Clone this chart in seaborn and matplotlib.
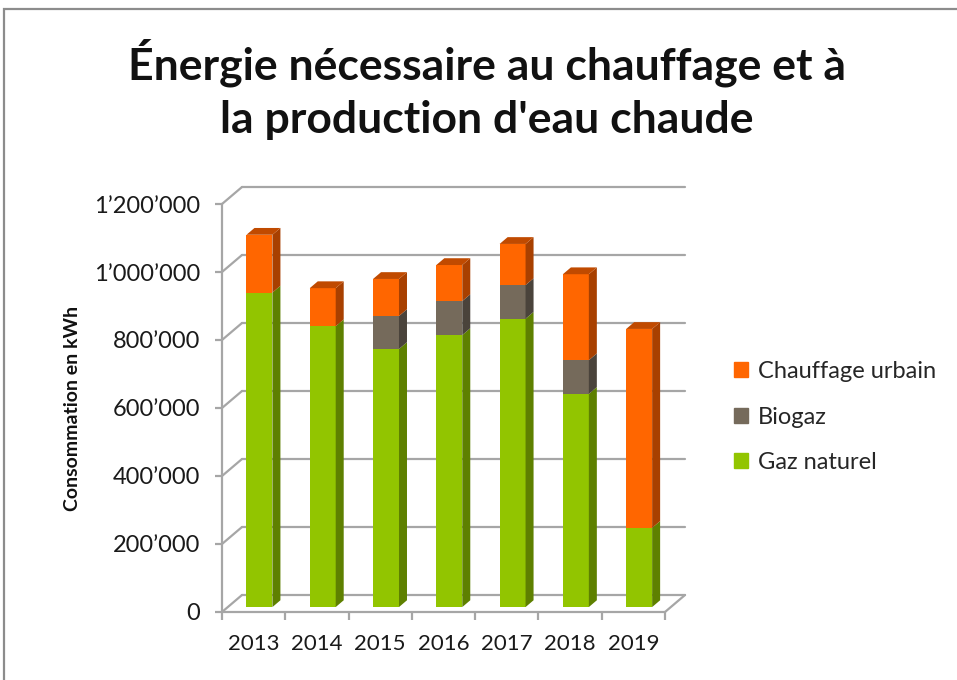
import matplotlib.pyplot as plt
import numpy as np
import pandas as pd
import seaborn as sns
from matplotlib.patches import Polygon, Rectangle

# values (kWh)
annees = ["2013", "2014", "2015", "2016", "2017", "2018", "2019"]
gaz_naturel = [925000, 826000, 759000, 800000, 848000, 627000, 233000]
biogaz = [0, 0, 97000, 100000, 99000, 99000, 0]
chauffage_urbain = [170000, 112000, 109000, 106000, 121000, 253000, 585000]
yticks = [0, 200000, 400000, 600000, 800000, 1000000, 1200000]
ytick_labels = ["0", "200’000", "400’000", "600’000", "800’000", "1’000’000", "1’200’000"]

vert, vert_side = "#92C500", "#5E8000"
brun, brun_side = "#756A5B", "#4A433B"
orange, orange_side, orange_top = "#FF6600", "#A84000", "#C04A00"
gris = "#A6A6A6"

sns.set_theme(style="white")
plt.rcParams["font.family"] = ["Lato", "DejaVu Sans"]

df = pd.DataFrame({"annee": annees, "gaz": gaz_naturel, "bio": biogaz, "urbain": chauffage_urbain})
df["milieu"] = df["gaz"] + df["bio"]
df["total"] = df["milieu"] + df["urbain"]

fig = plt.figure(figsize=(9.57, 6.8), dpi=100)
ax = fig.add_axes([222 / 957, 68 / 680, 443 / 957, 408 / 680])
ax.set_facecolor("none")

w = 0.41
sns.barplot(data=df, x="annee", y="total", color=orange, saturation=1, width=w, ax=ax, zorder=3)
sns.barplot(data=df, x="annee", y="milieu", color=brun, saturation=1, width=w, ax=ax, zorder=3)
sns.barplot(data=df, x="annee", y="gaz", color=vert, saturation=1, width=w, ax=ax, zorder=3)

ax.set_xlim(-0.5, 6.5)
ax.set_ylim(0, 1200000)

# fake 3D depth: back wall offset, bars sit partway in
DX, DY = 20 / (443 / 7), 17 * 1200000 / 408
f, d = 0.29, 0.4
for p in ax.patches:
    p.set_x(p.get_x() + f * DX)
    p.set_y(p.get_y() + f * DY)
    p.set_linewidth(0)

for i, row in df.iterrows():
    xr = i + w / 2 + f * DX
    xl = i - w / 2 + f * DX
    segs = [(0, row["gaz"], vert_side), (row["gaz"], row["milieu"], brun_side),
            (row["milieu"], row["total"], orange_side)]
    for y0, y1, c in segs:
        if y1 - y0 <= 0:
            continue
        y0, y1 = y0 + f * DY, y1 + f * DY
        ax.add_patch(Polygon([(xr, y0), (xr + d * DX, y0 + d * DY), (xr + d * DX, y1 + d * DY), (xr, y1)],
                             closed=True, color=c, lw=0, zorder=3, clip_on=False))
    t = row["total"] + f * DY
    ax.add_patch(Polygon([(xl, t), (xr, t), (xr + d * DX, t + d * DY), (xl + d * DX, t + d * DY)],
                         closed=True, color=orange_top, lw=0, zorder=3, clip_on=False))

# walls and floor
for v in yticks:
    ax.plot([-0.5 + DX, 6.5 + DX], [v + DY, v + DY], color=gris, lw=1.6, zorder=1, clip_on=False)
    ax.plot([-0.5, -0.5 + DX], [v, v + DY], color=gris, lw=1.6, zorder=1, clip_on=False)
ax.plot([-0.5, 6.5], [0, 0], color=gris, lw=1.6, zorder=1, clip_on=False)
ax.plot([6.5, 6.5 + DX], [0, DY], color=gris, lw=1.6, zorder=1, clip_on=False)
ax.plot([-0.5, -0.5], [0, 1200000], color=gris, lw=1.6, zorder=1, clip_on=False)

for s in ax.spines.values():
    s.set_visible(False)
ax.set_yticks(yticks)
ax.set_yticklabels(ytick_labels, fontsize=17)
ax.set_xticks(range(len(annees)))
ax.set_xticklabels(annees, fontsize=16)
ax.set_xticks(np.arange(-0.5, 7, 1), minor=True)
ax.tick_params(axis="y", length=5, width=1.6, pad=11, left=True, colors="#1a1a1a")
ax.tick_params(axis="y", color=gris)
ax.tick_params(axis="x", which="major", length=0, pad=16, colors="#1a1a1a")
ax.tick_params(axis="x", which="minor", length=6, width=1.6, color=gris, bottom=True)
ax.set_xlabel("")
ax.set_ylabel("Consommation en kWh", fontsize=14, fontweight="bold", labelpad=9, color="#111111")

fig.text(0.509, 0.869, "Énergie nécessaire au chauffage et à\nla production d'eau chaude",
         ha="center", va="center", fontsize=32, fontweight="bold", linespacing=1.4, color="#111111")

handles = [Rectangle((0, 0), 1, 1, color=orange), Rectangle((0, 0), 1, 1, color=brun),
           Rectangle((0, 0), 1, 1, color=vert)]
fig.legend(handles, ["Chauffage urbain", "Biogaz", "Gaz naturel"], loc="center left",
           bbox_to_anchor=(713 / 957, 1 - 417 / 680), frameon=False, fontsize=17,
           handlelength=0.6, handleheight=0.6, handletextpad=0.4, labelspacing=1.05)

fig.add_artist(Rectangle((0.004, -0.1), 1.2, 1.087, transform=fig.transFigure,
                         fill=False, edgecolor="#8c8c8c", lw=1.6))

fig.savefig("out.png", dpi=100)
